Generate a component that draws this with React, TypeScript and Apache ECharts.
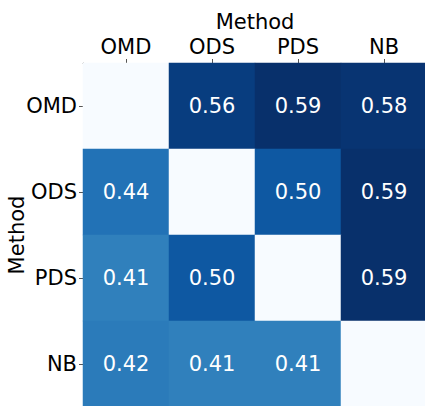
import React, { useEffect, useRef } from "react";
import * as echarts from "echarts";

const methods = ["OMD", "ODS", "PDS", "NB"];
const rowOMD = [0, 0.56, 0.59, 0.58];
const rowODS = [0.44, 0, 0.5, 0.59];
const rowPDS = [0.41, 0.5, 0, 0.59];
const rowNB = [0.42, 0.41, 0.41, 0];
const rows = [rowOMD, rowODS, rowPDS, rowNB];
const blues = ["#f7fbff", "#deebf7", "#c6dbef", "#9ecae1", "#6baed6", "#4292c6", "#2171b5", "#08519c", "#08306b"];

export default function App() {
  const ref = useRef<HTMLDivElement>(null);
  useEffect(() => {
    if (!ref.current) return;
    const chart = echarts.init(ref.current, undefined, { renderer: "svg" });
    const data: any[] = [];
    rows.forEach((r, yi) => r.forEach((v, xi) => data.push([xi, yi, v])));
    const font = "DejaVu Sans";
    chart.setOption({
      animation: false,
      textStyle: { fontFamily: font },
      grid: { left: 83, top: 63, width: 344, height: 344, outerBoundsMode: "none", containLabel: false },
      xAxis: {
        type: "category",
        position: "top",
        data: methods,
        name: "Method",
        nameLocation: "middle",
        nameGap: 31,
        nameMoveOverlap: false,
        nameTextStyle: { fontSize: 21, color: "#000", fontFamily: font },
        axisLabel: { fontSize: 21, color: "#000", margin: 6, fontFamily: font },
        axisTick: { show: true, alignWithLabel: true, length: 4, lineStyle: { color: "#555" } },
        axisLine: { show: true, lineStyle: { color: "#999", width: 1 } },
        splitArea: { show: false },
      },
      yAxis: {
        type: "category",
        inverse: true,
        data: methods,
        name: "Method",
        nameLocation: "middle",
        nameGap: 56,
        nameMoveOverlap: false,
        nameRotate: 90,
        nameTextStyle: { fontSize: 21, color: "#000", fontFamily: font },
        axisLabel: { fontSize: 21, color: "#000", margin: 6, fontFamily: font },
        axisTick: { show: true, alignWithLabel: true, length: 4, lineStyle: { color: "#555" } },
        axisLine: { show: true, lineStyle: { color: "#999", width: 1 } },
        splitArea: { show: false },
      },
      visualMap: {
        show: false,
        min: 0,
        max: 0.59,
        calculable: false,
        inRange: { color: blues },
      },
      series: [
        {
          type: "heatmap",
          data,
          label: {
            show: true,
            color: "#fff",
            fontSize: 21,
            fontFamily: font,
            formatter: (p: any) => (p.value[0] === p.value[1] ? "" : p.value[2].toFixed(2)),
          },
          itemStyle: { borderWidth: 0 },
          emphasis: { disabled: true },
        },
      ],
    });
    return () => chart.dispose();
  }, []);
  return (
    <div
      ref={ref}
      style={{ position: "fixed", left: 0, top: 0, width: 425, height: 406, background: "#fff" }}
    />
  );
}
